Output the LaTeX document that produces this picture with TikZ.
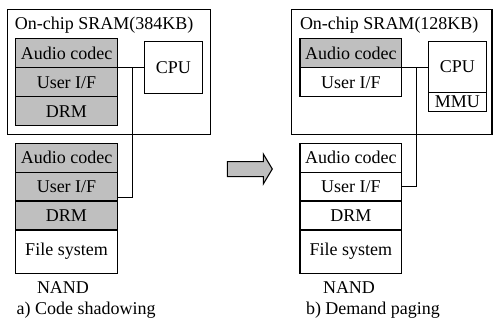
\documentclass[tikz,border=0pt]{standalone}
\usepackage{fontspec}
\setmainfont{Liberation Serif}
\begin{document}
\begin{tikzpicture}[x=1pt,y=-1pt,
  every node/.style={font=\fontsize{18}{21}\selectfont, inner sep=0pt, outer sep=0pt},
  cell/.style={draw, line width=1.1pt, minimum width=101.6pt, anchor=north west},
  grey/.style={fill=black!25},
  frame/.style={draw, line width=1.1pt},
  wire/.style={line width=1.1pt}]
\useasboundingbox (0,0) rectangle (493,323);
% outer frames
\draw[frame] (7.5,9.5) rectangle (210.5,134.5);
\draw[frame] (291.7,9.5) rectangle (492,134.5);
\node[anchor=base west] (t1) at (15,30) {On-chip SRAM(384KB)};
\node[anchor=base west] (t2) at (300,30) {On-chip SRAM(128KB)};
% left SRAM stack
\node[cell,grey,minimum height=29.4pt] (a1) at (15.7,38.3) {Audio codec};
\node[cell,grey,minimum height=29pt] (u1) at (15.7,67.7) {User I/F};
\node[cell,grey,minimum height=29pt] (d1) at (15.7,96.7) {DRM};
% left CPU
\node[draw,line width=1.1pt,minimum width=58pt,minimum height=52pt,anchor=north west] (c1) at (144.3,41.3) {CPU};
% left NAND stack
\node[cell,grey,minimum height=29pt] (a2) at (15.7,143.3) {Audio codec};
\node[cell,grey,minimum height=28.7pt] (u2) at (15.7,172.3) {User I/F};
\node[cell,grey,minimum height=29pt] (d2) at (15.7,201) {DRM};
\node[cell,minimum height=43.3pt] (f2) at (15.7,230) {File system};
\node[anchor=base] (n1) at (63,294) {NAND};
\node[anchor=base west] (cap1) at (16.7,315) {a) Code shadowing};
% right SRAM stack
\node[cell,grey,minimum height=29.4pt] (a3) at (300,38.3) {Audio codec};
\node[cell,minimum height=29pt] (u3) at (300,67.7) {User I/F};
% right CPU + MMU
\node[draw,line width=1.1pt,minimum width=58pt,minimum height=51pt,anchor=north west] (c2) at (428.3,41.3) {CPU};
\node[draw,line width=1.1pt,minimum width=58pt,minimum height=19.2pt,anchor=north west] (m2) at (428.3,92.3) {MMU};
% right NAND stack
\node[cell,minimum height=29pt] (a4) at (300,143.3) {Audio codec};
\node[cell,minimum height=28.7pt] (u4) at (300,172.3) {User I/F};
\node[cell,minimum height=29pt] (d4) at (300,201) {DRM};
\node[cell,minimum height=43.3pt] (f4) at (300,230) {File system};
\node[anchor=base] (n2) at (349,294) {NAND};
\node[anchor=base west] (cap2) at (306,315) {b) Demand paging};
% connectors
\coordinate (j1) at (132.7,67.7);
\coordinate (e1) at (117.3,197.7);
\draw[wire] (a1.south east) -- (c1.west |- a1.south east);
\draw[wire] (j1) |- (e1);
\coordinate (j2) at (416.7,67.7);
\draw[wire] (a3.south east) -- (c2.west |- a3.south east);
\draw[wire] (j2) |- (u4.east);
% transition arrow
\draw[line width=1.1pt, fill=black!25, line join=miter]
  (227.3,161.7) -- (263.3,161.7) -- (263.3,154) -- (272.3,169) -- (263.3,184)
  -- (263.3,176.7) -- (227.3,176.7) -- cycle;
\end{tikzpicture}
\end{document}
